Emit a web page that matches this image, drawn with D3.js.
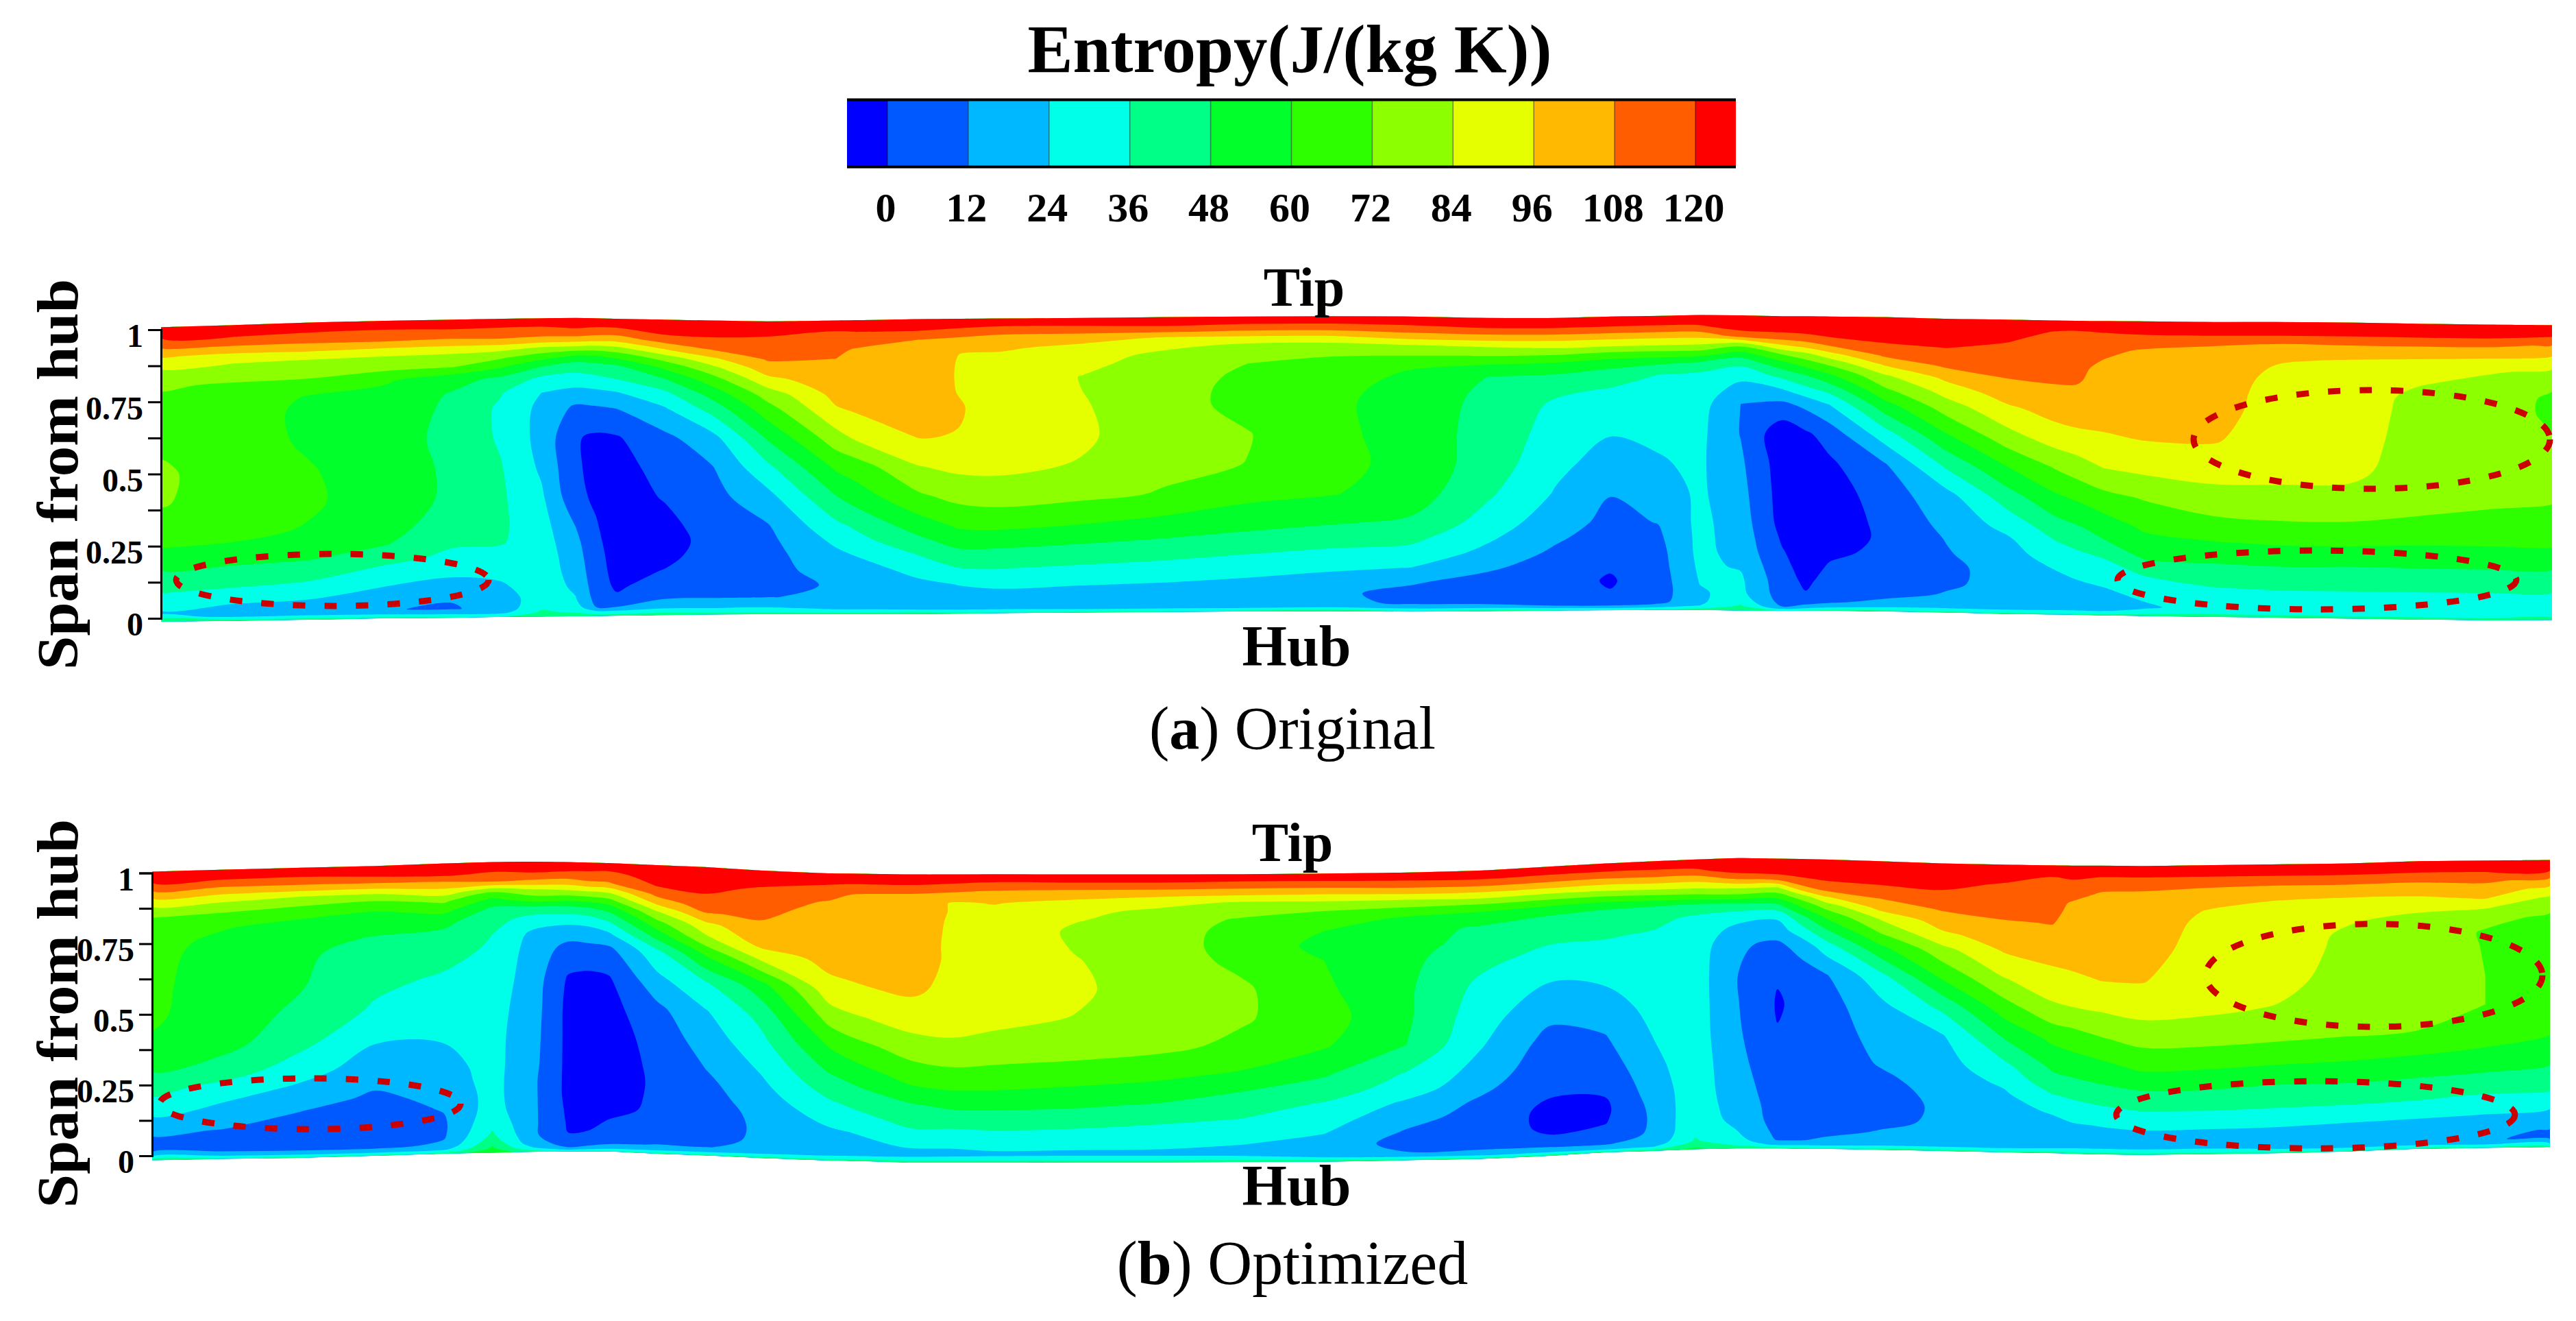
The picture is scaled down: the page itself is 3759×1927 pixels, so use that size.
<!DOCTYPE html>
<html>
<head>
<meta charset="utf-8">
<script src="https://cdn.jsdelivr.net/npm/d3@7"></script>
<style>
  body { margin: 0; background: #fff; }
  text { font-family: "Liberation Serif", serif; fill: #000; }
</style>
</head>
<body>
<script>
// position along the passage, one entry per column of the entropy tables
const chord = [235,340,450,560,660,730,790,840,870,900,970,1040,1120,1220,1250,1340,1400,1460,1580,1700,1820,1940,2060,2170,2270,2350,2420,2480,2540,2600,2635,2670,2750,2840,2930,3000,3030,3070,3130,3230,3330,3430,3530,3630,3724];
// span of each table row, tip first
const span = [1,.96,.93,.9,.87,.84,.8,.75,.7,.6,.5,.4,.3,.25,.2,.15,.1,.06,.03,.015,0];

const levels = [0,12,24,36,48,60,72,84,96,108,120];
const bandColors = ['#0000ff','#0059ff','#00b8ff','#00ffe8','#00ff87','#00ff2b','#2dff00','#8cff00','#e6ff00','#ffb900','#ff5d00','#ff0000'];
const spanTicks = [0,.125,.25,.375,.5,.625,.75,.875,1];
const spanLabels = [0,.25,.5,.75,1];

// channel walls in span units
const tipA = [1.009,1.016,1.025,1.031,1.035,1.038,1.040,1.041,1.040,1.038,1.035,1.032,1.029,1.032,1.033,1.037,1.038,1.039,1.041,1.044,1.046,1.047,1.046,1.041,1.041,1.046,1.048,1.051,1.050,1.047,1.047,1.046,1.044,1.038,1.035,1.032,1.031,1.030,1.029,1.027,1.027,1.025,1.021,1.018,1.016];
const hubA = [-.012,-.009,-.005,0,.002,.005,.006,.007,.008,.009,.011,.013,.014,.014,.014,.015,.016,.018,.020,.022,.024,.025,.023,.025,.027,.028,.029,.029,.027,.026,.026,.026,.024,.020,.015,.013,.012,.010,.008,.005,.002,-.001,-.004,-.007,-.006];
const tipB = [1.005,1.012,1.019,1.025,1.034,1.039,1.040,1.039,1.037,1.035,1.028,1.021,1.009,.999,.998,.995,.995,.996,.995,.995,.996,.998,1.002,1.009,1.023,1.034,1.042,1.048,1.053,1.051,1.050,1.048,1.042,1.034,1.030,1.027,1.026,1.026,1.025,1.028,1.031,1.034,1.042,1.044,1.046];
const hubB = [-.016,-.011,-.007,0,.007,.011,.014,.015,.015,.015,.007,.001,-.008,-.017,-.018,-.024,-.024,-.024,-.023,-.023,-.022,-.021,-.016,-.011,0,.012,.017,.023,.026,.026,.025,.024,.021,.017,.012,.009,.007,.005,.003,.006,.009,.015,.024,.028,.031];

const entropyA = [
[132,119,109,97,87,80,73,70,69,70,74,73,65,60,52,44,36.5,29,22,27,45],
[132,120,108,94,84,78,71,69,67,65,66,66,63,58.5,50,42,34,24.5,18,22,42],
[132,118,108,95,82,77,70,59,57,58.5,61,62,59,54,48,40,30,22.5,18,24,42],
[132,116,108,92,80,75,62,56,54,53,54,54,52,49,40,31,23,14,12.5,22,40],
[132,117,106,90,78,72,52,47,46,45,46,46,42,37.5,33,26,19,12.5,11,20,38],
[132,116,107,88,74,62,46,37,34,34.5,37,38,38,37,32,27,22,18,16,20,36],
[132,115,105,82,65,49,34,24,21,20,22,26,29,30,31,31,30,30,34,38,46],
[132,118,104,80,57,42,32,20,10,1,1.5,3,12,15,17,19,22,24.5,30,34,44],
[132,116,102,78,58,44,34,21,11,-2,-3,-2,1,2.5,4,5,6,8,12,26,42],
[132,116,101,80,62,46,37,23,12.5,-1,-4,-6,-7,-6,-5,-4,-2,2,12,26,42],
[132,124,113,96,77,63,48,33,23,9,4,1,-4,-6,-3,.5,6,10.5,19,30,44],
[132,124,117,108,94,81,67,53,41,20,11.5,8,6,5,5,6,8,11,20,28,42],
[132,122,117,113,109,103,92,77,67,49,33,20,11,9,8,8,9,11.5,21,28,42],
[132,119,114,110,108,106,104,100,95,79,62,47.5,33,26.5,21,17,13,14,18,25,42],
[132,120,113,107,106,105,104,101,98,86,66,54,38,32,24.5,18,13.5,14,18,25,42],
[132,120,108,106,105,104,103,102,100,96.5,83.5,70,54,45,36,28,21,18,17,24,46],
[132,117,105,97,95.5,95,95,95.5,97,95.5,87,76,62,54,44,35,24.5,20,17,23,42],
[132,114,102,97.5,94,93,92,91,90,89,87,78,63,54,44,36,27,20,17,22,40],
[132,114,100,93,90,87,83.5,84,85,86,83,75,60,51,42,34,25,20,17,20,40],
[132,116,95,87,80,78,77,76,76,76,75,71,56,48,40,32,24,20,17,20,40],
[132,113,94,80,76,72,70,69,69,72.6,71.8,64,52,45,37,29,22,19,17,20,40],
[132,113,94,79,73,69,66,64,63,64,65,61,49,42,34,26,20,14,15,22,42],
[132,116,100,82,73,62,58,55,54,54,55,54,46,39,32,24,13,9,10,18,40],
[132,118,100,84,72,60,48,46,45,44,43,38,31,26,21,14,8,5,8,18,40],
[132,118,100,86,70,57,46,38,34,31,27,23,17,14,10,7,4,3,5,13,38],
[132,118,100,85,67,53,42,35,31,24.5,19,12.5,9,6,3,1,-1,.5,6,12.5,36],
[132,117,99,84,66,50,36,31,28,26,23,18,12.5,10,8,7,6,6,8,15,38],
[132,118,100,84,66,48,34,31,29,27,26,26,27,27,27,26,24.5,23,22,24,42],
[132,125,112,76,55,40,28,20,12,11.5,14,16,18,19,20,23,26,27,32,38,46],
[132,125,115,94,72,56,40,23,9,-8,-6,-5,-4,-1.5,1,3,5,6,8,12,34],
[132,126,117,101,80,66,48,32,15,-2,-6,-8,-9,-8,-6,-4,-2,.5,8,15,38],
[132,127,120,108,91,75,58,40,24,5,-2,-6,-7,-6,-2,1,4,7,10.5,18,40],
[132,127,123,118,110,98,82,69,55,30,11,6,3,2,2,3,5,8,15,23,40],
[132,127,123,120,115,110,99,88,78,58,38,20,15,12.5,11,9,10,13,18,24,40],
[132,126,121,117,114,112,108,102,94,79,60,43,28,22,19,17,16,16,17,24,40],
[132,119,115,113,112,111,109,106,101,90,73,58,43,36,30,24,20,18,18,24,40],
[132,118,115,113,111,110,109,106,103,92,78,62,47,40,33,27,22,19,18,24,40],
[132,120,114,110,108,106,105,103,101,94.5,84,68,53,47,37,30,24.5,20,18,24,40],
[132,122,112,107,105,104,102,100,98,96.5,87,73,62,56,50,38.5,30,25.5,22,28,42],
[132,123,110,105,104,103,102,101,100,97,89,79,67,59,51,43,36,32,30,31,44],
[132,123,109,102,97,94,92,91,91,90,88,80,69,61,53,44,37,32,30,30,44],
[132,123,110,102,95,92,91,90,90,89,87,80,69,61,53,43,37,32,29,30,43],
[132,123,110,102,93,90,85,81,80,79,78,76,68,60,53,44,37,32,29,30,42],
[132,123,110,101,91,85,81,79,78,77,76,74,66,60,53,44,37,32,29,30,42],
[132,120,107,98,88,82,74,70,70,73,75,72.5,65,60.5,53,44,37,32,29,30,42]
];

const entropyB = [
[132,119,106,92,80,72,67,65,64,63,62,58,47,40,33,23.5,14,9,11,20,42],
[132,118,103,89,77,69,61,56,54,53,53,52,42,32,24.5,18,11.5,8,10,18,40],
[132,117,103,84,73,64,55,52,50,49,46,40,29,23,17,11,7,6,9,18,40],
[132,119,102,82,68,59,53,47,43,39,34,25,18,14,10,7,5,4,9,18,40],
[132,122,104,90,74,64,51,45,41,34,30,25,20,18,15,12.5,10.5,11,14,22,42],
[132,118,107,74,57,46,41,36,34,31,29,28,28,28,28,29,33,38,46,50,54],
[132,119,104,80,66,44,30,21,19,18,17,16,15,14,14,14,14,14,16,24,42],
[132,117,102,82,63,44,28,16,8,-1,-3,-3,-3,-3,-3,-2,-1,.2,8,12,34],
[132,116,106,84,64,46,30,16,9,-3,-5,-5,-5,-5,-5,-4,-2,1,9,14,36],
[132,115,107,86,68,52,37,21,9,-1,-4,-6,-7,-6,-5,-3,1,6,10.5,16,38],
[132,127,121,112,100,84,68,51,33,20,9,5,3,2,2,2,4,7,12.5,20,40],
[132,127,123,119,115,107.5,92,80,62,35,23,17,12,9,7,6,6,8,11.5,20,40],
[132,123,118,114,111,109,106,101,88,55,40,32,24.5,21,18,15,14,14,15,24,42],
[132,120,113,107,105,104,102,101,100,92,77,61,47.5,41,34,28,22,19,18,25,42],
[132,119,108.5,105,104,103,102,101,100,94.5,82,67,52,45,38,31,24,20,18,25,42],
[132,119,107,104,103,102,102,101,101,98,90,78,65,57,47,41,33,26,20,26,44],
[132,117,105,95,95,94.5,94,94,94,93,90,81,68,60,51,42,33,26,21,26,44],
[132,115,103,96.5,94,93,92,92,91,90,87,80,67,60,51,43,34,28,22,26,44],
[132,115,100,93,87,84.5,82,83,84.5,86,83.5,78,65,58,50,42,33,27,22,26,44],
[132,115,99,88,81,80,79,78,78,78,77,75,62,56,47,39,31,26,22,26,44],
[132,113,98,82,77,70,67,67,69,74,73.5,69,58,49,41,36,29,24,21,26,44],
[132,113,97,82,72,66,60,57,60,62,65,61,49,42,35,29,24.5,19,17,24,44],
[132,115,99,81,68,58,53,52,51,50,50,48,35,31,22,17,11,8,12,20,42],
[132,116,99,82,64,55,46,44,40,33,29,25,19,15,10,7,5,6,12.5,20,42],
[132,115,99,80,63,50,42,38,33,24,16,8,4,2,0,-3,-2,1,12,20,44],
[132,115,98,81,62,48,42,37,33,26,18,11.5,6,3,.5,-2,-.3,5,11,16,42],
[132,116,100,83,64,46,39,35,33,31,28,24.5,21,19,17,15,14,14,17,24,44],
[132,117,100,84,66,44,34,32,31,30,30,30,31,31,31,32,33,34,37,45,50],
[132,126,110,87,69,46,29,20,14,12.5,13,14,15,16,17,18,20,24.5,29,33,44],
[132,127,112,83,65,46,26,18,9,1,-1,.5,5,6,7,8,8,9,11,20,40],
[132,127,118,104,78,63,45,30,17,6,2.5,3,4,5,6,7,7,8,11.5,20,40],
[132,127,121,113,95,77,61,45,30,11,7,5,5,5,5,6,7,9,14,20,40],
[132,127,123,116,108,101,85,72,57,32,21,17,13,10,8,7,9,13,18,24,42],
[132,127,123,119,114,109,102,93,80,61,39,23,19,17,15,14,14,15,17,24,42],
[132,124,119,116,114,112,107,102,97,83,66,49,33,27,22,19,17,17,18,24,40],
[132,120,116,113,111,110,108.5,104,100,92,81,63,50,44,35,26,20,18,18,25,42],
[132,122,115,111,107,106,104,102,100,94,83,66,53,46,38,30,23,20,19,26,42],
[132,120,111,107,105,104,103,101,100,96,85,71,56,49,41,33,24.5,20,19,26,42],
[132,120,111,106,104,103,102,101,100,96.5,88,76,62,53,44,36,26.5,20,18,26,42],
[132,120,110,103,99,95,93,92,91,90,86,76,61,53,44,36,26,20,18,26,42],
[132,120,109,101,95,92,90,90,90,88,83,74,59,50,42,35,25.5,19,17,24,42],
[132,120,109,101,93,88,85,82,81,79,77,72,58,50,42,34,24,18,15,22,40],
[132,120,109,102,94,87,81,79,78,77,76,71.5,56,48.5,41,33,23,17,14,22,40],
[132,120,110,103,97,86,75,71,71.5,72,72,66,54,46,38,30,21,14,12.5,20,40],
[132,119,104,92,82,75,70,68,67,66,65,61,50,43,37,27,18,11.5,11,20,40]
];

// dashed marks on the figure, centre and half sizes in chord and span units
const marksA = [
  {chord: 485, span: .133, rx: 228, ry: .09},
  {chord: 3461, span: .62, rx: 260, ry: .171},
  {chord: 3381, span: .133, rx: 291, ry: .102}
];
const marksB = [
  {chord: 465, span: .184, rx: 219, ry: .09},
  {chord: 3468, span: .638, rx: 245, ry: .182},
  {chord: 3383, span: .145, rx: 290, ry: .119}
];

const width = 3759, height = 1927;
const svg = d3.select('body').append('svg')
    .attr('width', width)
    .attr('height', height)
    .style('display', 'block');

// colour bar
const legendX = d3.scaleLinear().domain([-6, 126]).range([1236, 2533]);
const bandEdges = [-6].concat(levels, [126]);
const legend = svg.append('g');
legend.selectAll('rect')
    .data(bandColors)
    .enter()
    .append('rect')
    .attr('x', (d, i) => legendX(bandEdges[i]))
    .attr('y', 147)
    .attr('width', (d, i) => legendX(bandEdges[i + 1]) - legendX(bandEdges[i]))
    .attr('height', 96)
    .attr('fill', d => d);
legend.selectAll('line.sep')
    .data(levels)
    .enter()
    .append('line')
    .attr('class', 'sep')
    .attr('x1', d => legendX(d))
    .attr('x2', d => legendX(d))
    .attr('y1', 147)
    .attr('y2', 243)
    .attr('stroke', '#000')
    .attr('stroke-opacity', .45)
    .attr('stroke-width', 1.5);
[145.5, 243.5].forEach(y => {
    legend.append('line')
        .attr('x1', 1236).attr('x2', 2533)
        .attr('y1', y).attr('y2', y)
        .attr('stroke', '#000').attr('stroke-width', 4);
});
const legendAxis = legend.append('g')
    .attr('transform', 'translate(-3,323)')
    .call(d3.axisBottom(legendX).tickValues(levels).tickSize(0));
legendAxis.select('.domain').remove();
legendAxis.selectAll('text')
    .attr('y', 0).attr('dy', 0)
    .style('font-size', '60px')
    .style('font-weight', 'bold')
    .style('font-family', '"Liberation Serif", serif');

svg.append('text')
    .attr('x', 1882).attr('y', 105)
    .attr('text-anchor', 'middle')
    .attr('textLength', 765).attr('lengthAdjust', 'spacingAndGlyphs')
    .style('font-size', '100px').style('font-weight', 'bold')
    .text('Entropy(J/(kg K))');

function drawPanel(p) {
    const nx = chord.length, ny = span.length;
    const x = d3.scaleLinear().domain(p.xDomain).range(p.xRange);
    const y = d3.scaleLinear().domain([0, 1]).range(p.yRange);
    const colChord = d3.scaleLinear().domain(d3.range(nx)).range(chord).clamp(true);
    const rowSpan = d3.scaleLinear().domain(d3.range(ny)).range(span).clamp(true);
    const tipAt = d3.scaleLinear().domain(chord).range(p.tip);
    const hubAt = d3.scaleLinear().domain(chord).range(p.hub);

    // flat row by row, the way d3.contours wants it
    const flat = [];
    for (let j = 0; j < ny; j++) for (let i = 0; i < nx; i++) flat.push(p.values[i][j]);

    const contours = d3.contours()
        .size([nx, ny])
        .thresholds([-1000].concat(levels))(flat);

    const project = c => {
        const ch = colChord(c[0] - .5), s = rowSpan(c[1] - .5);
        const hub = hubAt(ch), tip = tipAt(ch);
        return [x(ch), y(hub + s * (tip - hub))];
    };
    const straight = d3.line();
    const rounded = d3.line().curve(d3.curveCatmullRomClosed.alpha(.5));
    const toPath = (mp, gen) => mp.coordinates.map(poly =>
        poly.map(ring => {
            // contour rings repeat the first point at the end
            const pts = ring.slice(0, -1).map(project);
            return gen(pts) + (gen === straight ? 'Z' : '');
        }).join('')).join('');

    // the lowest band is the whole channel; the others get clipped to it
    const clipId = 'clip' + p.capLetter;
    svg.append('clipPath').attr('id', clipId)
        .append('path').attr('d', toPath(contours[0], straight));

    svg.append('g').attr('clip-path', 'url(#' + clipId + ')')
        .selectAll('path')
        .data(contours)
        .enter()
        .append('path')
        .attr('d', (d, i) => toPath(d, i ? rounded : straight))
        .attr('fill', (d, i) => bandColors[i])
        .attr('fill-rule', 'evenodd');

    const axis = svg.append('g')
        .attr('transform', 'translate(' + p.xRange[0] + ',0)')
        .call(d3.axisLeft(y)
            .tickValues(spanTicks)
            .tickSize(19)
            .tickPadding(7)
            .tickFormat(d => spanLabels.includes(d) ? String(d) : ''));
    axis.selectAll('.domain').attr('stroke-width', 3);
    axis.selectAll('.tick line').attr('stroke-width', 3);
    axis.selectAll('text')
        .attr('dy', '.52em')
        .style('font-size', '48px')
        .style('font-weight', 'bold')
        .style('font-family', '"Liberation Serif", serif');

    svg.append('g').selectAll('ellipse')
        .data(p.marks)
        .enter()
        .append('ellipse')
        .attr('cx', d => x(d.chord))
        .attr('cy', d => y(d.span))
        .attr('rx', d => x(d.chord + d.rx) - x(d.chord))
        .attr('ry', d => y(d.span - d.ry) - y(d.span))
        .attr('fill', 'none')
        .attr('stroke', '#cc0000')
        .attr('stroke-width', 9)
        .attr('stroke-dasharray', '18 28');

    svg.append('text')
        .attr('transform', 'translate(113,' + p.titleBottom + ') rotate(-90)')
        .attr('textLength', p.titleLength)
        .attr('lengthAdjust', 'spacingAndGlyphs')
        .style('font-size', '85px').style('font-weight', 'bold')
        .text('Span from hub');

    svg.append('text').attr('x', p.tipX).attr('y', p.tipY)
        .attr('text-anchor', 'middle')
        .style('font-size', '80px').style('font-weight', 'bold').text('Tip');
    svg.append('text').attr('x', p.hubX).attr('y', p.hubY)
        .attr('text-anchor', 'middle')
        .style('font-size', '84px').style('font-weight', 'bold').text('Hub');

    const cap = svg.append('text')
        .attr('x', p.capX).attr('y', p.capY)
        .attr('text-anchor', 'middle')
        .style('font-size', p.capSize + 'px');
    cap.append('tspan').text('(');
    cap.append('tspan').style('font-weight', 'bold').text(p.capLetter);
    cap.append('tspan').text(') ' + p.capName);
}

drawPanel({
    values: entropyA, tip: tipA, hub: hubA, marks: marksA,
    xDomain: [235, 3724], xRange: [235, 3724], yRange: [902, 481],
    titleBottom: 977, titleLength: 570,
    tipX: 1903, tipY: 446, hubX: 1892, hubY: 971,
    capX: 1886, capY: 1092, capSize: 88, capLetter: 'a', capName: 'Original'
});
drawPanel({
    values: entropyB, tip: tipB, hub: hubB, marks: marksB,
    xDomain: [235, 3724], xRange: [222, 3721], yRange: [1686, 1273.5],
    titleBottom: 1762, titleLength: 567,
    tipX: 1886, tipY: 1256, hubX: 1892, hubY: 1758,
    capX: 1886, capY: 1873, capSize: 90, capLetter: 'b', capName: 'Optimized'
});
</script>
</body>
</html>
